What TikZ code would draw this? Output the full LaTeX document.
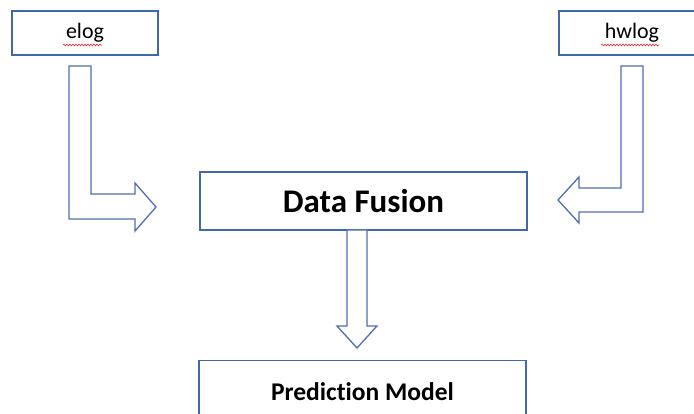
\documentclass[tikz,border=0pt]{standalone}
\usepackage{fontspec}
\setmainfont[Ligatures=NoCommon]{Carlito}
\usetikzlibrary{decorations.pathmorphing}
\definecolor{boxblue}{RGB}{65,105,170}
\definecolor{arrowblue}{RGB}{80,110,175}
\definecolor{squiggle}{RGB}{230,40,40}
\tikzset{
  srcbox/.style={draw=boxblue, line width=1.3pt, fill=white, minimum width=146pt, minimum height=44pt, inner sep=0pt, font=\fontsize{22}{24}\selectfont},
  mainbox/.style={draw=boxblue, line width=1.3pt, fill=white, minimum width=327pt, minimum height=58pt, inner sep=0pt},
  blockarrow/.style={draw=arrowblue, line width=1.3pt, fill=white, line join=miter},
  spellmark/.style={draw=squiggle, line width=0.6pt, decorate, decoration={snake, amplitude=0.9pt, segment length=3pt}}
}
\begin{document}
\begin{tikzpicture}[x=1pt, y=-1pt]
\useasboundingbox (0,0) rectangle (694,414);
\clip (0,0) rectangle (694,414);

% input boxes
\node[srcbox] (elog) at (85,33) {elog};
\node[srcbox] (hwlog) at (632,33) {hwlog};
\draw[spellmark] (63,45) -- (102,45);
\draw[spellmark] (601,45) -- (659,45);

% processing boxes
\node[mainbox, font=\fontsize{33}{36}\selectfont\bfseries] (fusion) at (363.5,201) {Data Fusion};
\node[mainbox, minimum height=70pt, anchor=north] (model) at (362.5,360) {};
\node[font=\fontsize{25.5}{30}\selectfont\bfseries] (modeltext) at (362.5,392) {Prediction Model};

% bent block arrow from elog into the fusion box
\draw[blockarrow] (69,66) -- (91,66) -- (91,194) -- (135,194) -- (135,183)
  -- (156,207) -- (135,231) -- (135,219) -- (69,219) -- cycle;

% bent block arrow from hwlog into the fusion box
\draw[blockarrow] (643,66) -- (621,66) -- (621,188) -- (579,188) -- (579,177)
  -- (558,200) -- (579,223) -- (579,212) -- (643,212) -- cycle;

% block arrow from fusion down to the model
\draw[blockarrow] (347,230) -- (367,230) -- (367,326) -- (377,326)
  -- (357,348) -- (337,326) -- (347,326) -- cycle;
\end{tikzpicture}
\end{document}
